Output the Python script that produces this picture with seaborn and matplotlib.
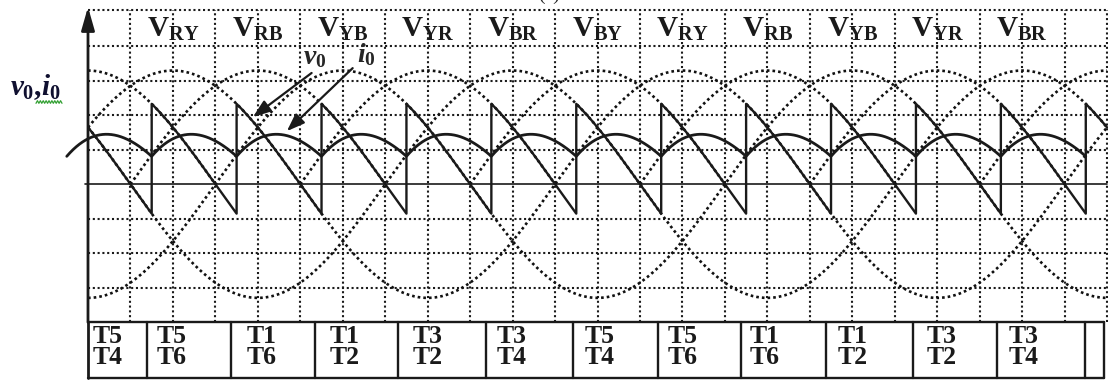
import numpy as np
import pandas as pd
import matplotlib
matplotlib.use("Agg")
import matplotlib.pyplot as plt
import seaborn as sns
from matplotlib.lines import Line2D
from matplotlib import font_manager

_names = sorted({f.name for f in font_manager.fontManager.ttflist})
if "Liberation Serif" not in _names:
    raise SystemExit("FONTS: " + ", ".join(_names))

# ---------------- data ----------------
# angles in electrical degrees (0 = vertical axis), values in grid units
amplitude = 3.3                                   # peak of the line voltages
firing_angle = 75                                 # alpha (deg)
full_wave_peaks = [60, 180, 300]                  # line voltages drawn whole
half_wave_peaks = [0, 120, 240, 360, 480, 600, 720]  # drawn only where positive
firing_deg = [-15, 45, 105, 165, 225, 285, 345, 405, 465, 525, 585, 645, 705]
i0_min, i0_max = 0.81, 1.45                       # load current ripple limits
load_R, load_L = 0.71, 0.69                       # RL load shaping the current

label_peaks = [60, 120, 180, 240, 300, 360, 420, 480, 540, 600, 660]
label_subs = ["RY", "RB", "YB", "YR", "BR", "BY", "RY", "RB", "YB", "YR", "BR"]

table_bounds = [0, 41.6, 100.9, 160.2, 218.8, 280.9, 342.4, 402.4, 461.6,
                521.6, 583.1, 642.4, 704.5, 717.9]
table_top = ["T5", "T5", "T1", "T1", "T3", "T3", "T5", "T5", "T1", "T1", "T3", "T3"]
table_bottom = ["T4", "T6", "T6", "T2", "T2", "T4", "T4", "T6", "T6", "T2", "T2", "T4"]
table_text_x = [3.5, 48.7, 112.2, 170.8, 229.4, 288.7, 350.8, 409.4, 467.3,
                529.4, 592.2, 650.8]

grid_x = list(range(0, 721, 30))
grid_y = [-3, -2, -1, 1, 2, 3, 4, 5.06]

# ---------------- style ----------------
sns.set_theme(style="white")
plt.rcParams["font.family"] = ["Liberation Serif", "DejaVu Serif"]
plt.rcParams["mathtext.fontset"] = "custom"
plt.rcParams["mathtext.rm"] = "Liberation Serif:bold"
plt.rcParams["mathtext.bf"] = "Liberation Serif:bold"
plt.rcParams["mathtext.it"] = "Liberation Serif:italic:bold"

W, H = 1108, 381
fig = plt.figure(figsize=(W / 100, H / 100), dpi=100)
fig.patch.set_facecolor("white")

XMAX = 720.7
ax = fig.add_axes([88 / W, (H - 322) / H, 1020 / W, 315 / H])
ax.set_xlim(0, XMAX)
ax.set_ylim(-4, 5.145)
ax.axis("off")

dot = (0, (1, 1.3))
# grid
for gx in grid_x[1:]:
    ax.plot([gx, gx], [-4, 5.06], color="k", lw=1.5, ls=dot, clip_on=False, zorder=1)
for gy in grid_y:
    ax.plot([0, 720], [gy, gy], color="k", lw=1.5, ls=dot, clip_on=False, zorder=1)
# zero line
ax.plot([-2, 720], [0, 0], color="k", lw=1.2, clip_on=False, zorder=2)

# ---------------- line voltages ----------------
wave_style = dict(color="#111111", lw=1.9, linestyle=(0, (1, 1.15)),
                  estimator=None, sort=False, zorder=2)
th = np.linspace(0, 720, 1441)
for p in full_wave_peaks:
    vals = amplitude * np.cos(np.radians(th - p))
    sns.lineplot(x=th, y=vals, ax=ax, **wave_style)
for p in half_wave_peaks:
    t = np.linspace(max(0, p - 90), min(720, p + 90), 361)
    vals = amplitude * np.cos(np.radians(t - p))
    sns.lineplot(x=t, y=vals, ax=ax, **wave_style)

# ---------------- output voltage v0 ----------------
phi = np.linspace(0, 60, 241)
lead = firing_angle - 30          # firing happens this far after the followed peak
v_x, v_y = [], []
for f in firing_deg:
    t = f + phi
    v = amplitude * np.cos(np.radians(t - (f - lead)))
    keep = (t >= 0) & (t <= 720)
    v_x.extend(t[keep]); v_y.extend(v[keep])
sns.lineplot(x=np.array(v_x), y=np.array(v_y), ax=ax, color="k", lw=1.7,
             estimator=None, sort=False, zorder=4)

# ---------------- load current i0 (RL response) ----------------
seg_v = amplitude * np.cos(np.radians(phi + lead))
dphi = np.radians(phi[1] - phi[0])
i_start = 1.0
for _ in range(200):
    cur = [i_start]
    for k in range(len(phi) - 1):
        cur.append(cur[-1] + (seg_v[k] - load_R * cur[-1]) / load_L * dphi)
    i_start = cur[-1]
cur = np.array(cur)
cur = i0_min + (cur - cur.min()) / (cur.max() - cur.min()) * (i0_max - i0_min)
i_x, i_y = [], []
for f in firing_deg[:-1]:
    i_x.extend(f + phi[:-1]); i_y.extend(cur[:-1])
i_x.append(firing_deg[-1]); i_y.append(cur[-1])
sns.lineplot(x=np.array(i_x), y=np.array(i_y), ax=ax, color="k", lw=2.0,
             estimator=None, sort=False, zorder=5, clip_on=False)

# ---------------- axis with arrow ----------------
ax.annotate("", xy=(0, 5.145), xytext=(0, -4.01), annotation_clip=False,
            arrowprops=dict(arrowstyle="-|>,head_length=0.7,head_width=0.2",
                            mutation_scale=20, lw=2.0, color="k",
                            shrinkA=0, shrinkB=0))

# ---------------- labels ----------------
for p, s in zip(label_peaks, label_subs):
    ax.text(p, 4.27, r"$\mathrm{V}_{\mathrm{%s}}$" % s, ha="center", va="baseline",
            fontsize=21, color="k", zorder=6)

ax.text(160, 3.5, r"$v_{\mathit{0}}$", ha="center", va="baseline", fontsize=20, zorder=6)
ax.text(197, 3.55, r"$i_{\mathit{0}}$", ha="center", va="baseline", fontsize=20, zorder=6)
ax.annotate("", xy=(116.5, 1.95), xytext=(158, 3.23), annotation_clip=False,
            arrowprops=dict(arrowstyle="-|>,head_length=0.6,head_width=0.22",
                            mutation_scale=18, lw=1.6, color="k", shrinkA=0, shrinkB=0))
ax.annotate("", xy=(140.5, 1.54), xytext=(187, 3.37), annotation_clip=False,
            arrowprops=dict(arrowstyle="-|>,head_length=0.6,head_width=0.22",
                            mutation_scale=18, lw=1.6, color="k", shrinkA=0, shrinkB=0))

fig.text(10 / W, 1 - 95 / H, r"$v_{\mathit{0}}\mathit{,}i_{\mathit{0}}$", ha="left",
         va="baseline", fontsize=21, color="#101030")
sq_x = np.linspace(36, 62, 19)
sq_y = 102 + 1.3 * np.array([(-1) ** k for k in range(len(sq_x))])
fig.add_artist(Line2D(sq_x / W, 1 - sq_y / H, transform=fig.transFigure,
                      color="#33a033", lw=0.9))
fig.text(549 / W, 1 - 4 / H, "(a)", ha="center", va="bottom", fontsize=14)

# ---------------- switching table ----------------
tx = fig.add_axes([88 / W, 3 / H, 1020 / W, 56 / H])
tx.set_xlim(0, XMAX)
tx.set_ylim(0, 1)
tx.axis("off")
for yb in (0, 1):
    tx.plot([0, table_bounds[-1]], [yb, yb], color="k", lw=1.7, clip_on=False)
for b in table_bounds:
    tx.plot([b, b], [0, 1], color="k", lw=1.7 if b > 0 else 2.0, clip_on=False)
for xx, a, b in zip(table_text_x, table_top, table_bottom):
    tx.text(xx, 0.56, f"{a}\n{b}", ha="left", va="center", fontsize=18.5,
            fontweight="bold", linespacing=0.9, color="k")

fig.savefig("out.png", dpi=100)
